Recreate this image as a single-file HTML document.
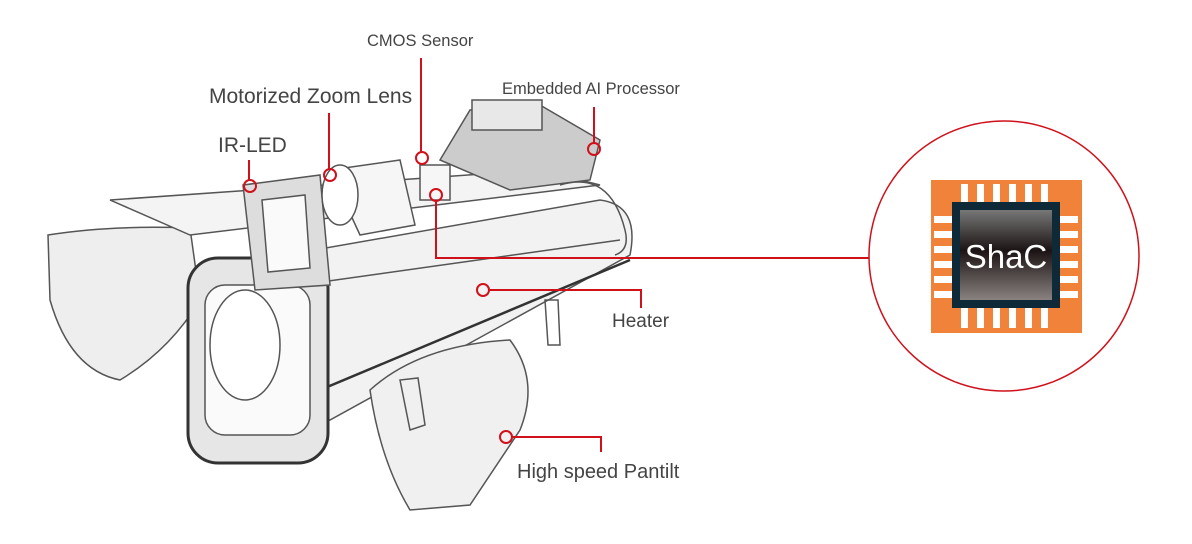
<!DOCTYPE html>
<html><head><style>
body{margin:0;width:1192px;height:544px;background:#fff;overflow:hidden;position:relative;font-family:"Liberation Sans",sans-serif}
.l{position:absolute;color:#444;white-space:nowrap;letter-spacing:0}
</style></head><body>
<svg width="1192" height="544" style="position:absolute;left:0;top:0">
<g fill="none" stroke="#555" stroke-width="1.5">
<path d="M48 235 Q110 225 190 228 L200 300 Q170 350 120 380 Q70 370 50 300 Z" fill="#eee"/>
<path d="M110 200 L540 170 L600 185 L190 235 Z" fill="#f4f4f4"/>
<path d="M200 270 L600 200 Q640 205 630 255 L330 420 L230 440 Z" fill="#f2f2f2"/>
<path d="M300 285 L620 240" />
<path d="M320 390 L630 260" stroke="#333" stroke-width="2.5"/>
<rect x="188" y="258" width="140" height="205" rx="30" fill="#e6e6e6" stroke="#333" stroke-width="3"/>
<rect x="205" y="285" width="105" height="150" rx="20" fill="#fafafa"/>
<ellipse cx="245" cy="345" rx="35" ry="55" fill="#fff"/>
<path d="M370 390 Q420 345 510 340 Q540 380 520 430 L470 505 L410 510 Q380 460 370 390Z" fill="#f0f0f0"/>
<path d="M400 380 L410 430 L425 425 L418 378Z M545 300 L548 345 L560 345 L558 300Z"/>
<path d="M243 185 L320 175 L330 285 L255 290 Z" fill="#ddd"/>
<path d="M262 200 L305 195 L310 268 L268 272 Z" fill="#fafafa"/>
<path d="M330 170 L400 160 L415 225 L360 235 Z" fill="#f6f6f6"/>
<ellipse cx="340" cy="195" rx="18" ry="30" fill="#fff"/>
<rect x="420" y="165" width="30" height="35" fill="#f6f6f6"/>
<path d="M440 160 L470 110 L540 105 L600 140 L590 180 L510 190 Z" fill="#ccc"/>
<rect x="472" y="100" width="70" height="30" fill="#e8e8e8"/>
<path d="M560 185 Q610 170 625 230 Q630 250 615 255" />
</g>
<g fill="none" stroke="#d0111b" stroke-width="2">
<circle cx="1004" cy="256" r="135" stroke-width="1.5"/>
<path d="M421 58 V152"/><circle cx="422" cy="158" r="6"/>
<path d="M329 113 V169"/><circle cx="330" cy="175" r="6"/>
<path d="M249 160 V180"/><circle cx="250" cy="186" r="6"/>
<path d="M594 107 V143"/><circle cx="594" cy="149" r="6"/>
<circle cx="436" cy="195" r="6"/><path d="M436 201 V258 H869"/>
<circle cx="483" cy="290" r="6"/><path d="M489 290 H641 V308"/>
<circle cx="506" cy="437" r="6"/><path d="M512 437 H601 V452"/>
</g>
<rect x="931" y="180" width="151" height="153" fill="#f0823a"/>
<g fill="#fff">
<rect x="961" y="184" width="7" height="20"/><rect x="977" y="184" width="7" height="20"/><rect x="993" y="184" width="7" height="20"/><rect x="1009" y="184" width="7" height="20"/><rect x="1025" y="184" width="7" height="20"/><rect x="1041" y="184" width="7" height="20"/>
<rect x="961" y="308" width="7" height="20"/><rect x="977" y="308" width="7" height="20"/><rect x="993" y="308" width="7" height="20"/><rect x="1009" y="308" width="7" height="20"/><rect x="1025" y="308" width="7" height="20"/><rect x="1041" y="308" width="7" height="20"/>
<rect x="934" y="216" width="20" height="7"/><rect x="934" y="231" width="20" height="7"/><rect x="934" y="246" width="20" height="7"/><rect x="934" y="261" width="20" height="7"/><rect x="934" y="276" width="20" height="7"/><rect x="934" y="291" width="20" height="7"/>
<rect x="1058" y="216" width="20" height="7"/><rect x="1058" y="231" width="20" height="7"/><rect x="1058" y="246" width="20" height="7"/><rect x="1058" y="261" width="20" height="7"/><rect x="1058" y="276" width="20" height="7"/><rect x="1058" y="291" width="20" height="7"/>
</g>
<defs><linearGradient id="g" x1="0" y1="0" x2="0" y2="1"><stop offset="0" stop-color="#777"/><stop offset="0.45" stop-color="#1c1414"/><stop offset="1" stop-color="#8a8280"/></linearGradient></defs>
<rect x="952" y="202" width="108" height="106" fill="#0e2a38"/>
<rect x="960" y="210" width="92" height="90" fill="url(#g)"/>
<text x="1006" y="268" text-anchor="middle" font-family="Liberation Sans,sans-serif" font-size="33" fill="#fff">ShaC</text>
</svg>
<div class="l" style="left:367px;top:32px;font-size:16.5px">CMOS Sensor</div>
<div class="l" style="left:209px;top:85px;font-size:21px">Motorized Zoom Lens</div>
<div class="l" style="left:218px;top:134px;font-size:21px">IR-LED</div>
<div class="l" style="left:502px;top:80px;font-size:16.5px">Embedded AI Processor</div>
<div class="l" style="left:612px;top:311px;font-size:19px">Heater</div>
<div class="l" style="left:517px;top:461px;font-size:20px">High speed Pantilt</div>
</body></html>
